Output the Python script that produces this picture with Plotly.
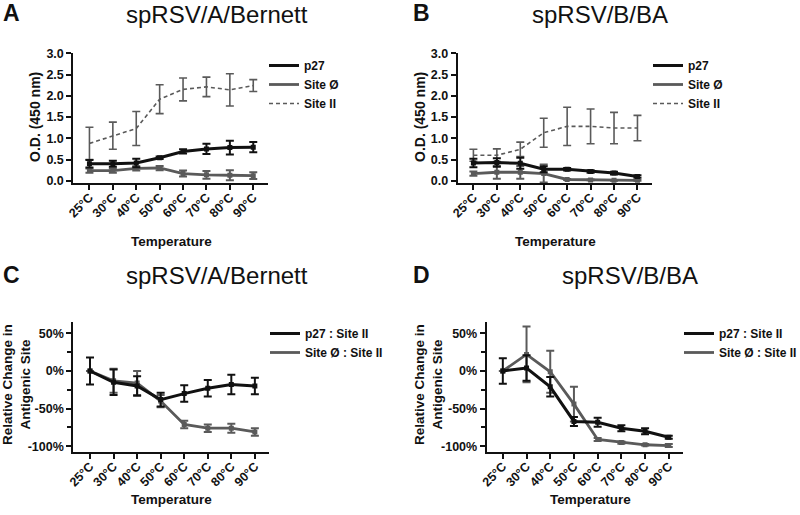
import plotly.graph_objects as go

temps = ["25°C", "30°C", "40°C", "50°C", "60°C", "70°C", "80°C", "90°C"]
xi = list(range(len(temps)))

# Panel A: spRSV/A/Bernett O.D.
a_p27 = [0.40, 0.40, 0.42, 0.54, 0.69, 0.75, 0.78, 0.79]
a_p27_err = [0.09, 0.07, 0.10, 0.03, 0.05, 0.12, 0.16, 0.12]
a_site0 = [0.24, 0.24, 0.29, 0.30, 0.17, 0.14, 0.13, 0.12]
a_site0_err = [0.05, 0.05, 0.05, 0.05, 0.07, 0.09, 0.12, 0.08]
a_site2 = [0.88, 1.06, 1.23, 1.92, 2.15, 2.21, 2.14, 2.24]
a_site2_err = [0.38, 0.32, 0.40, 0.34, 0.27, 0.23, 0.38, 0.14]

# Panel B: spRSV/B/BA O.D.
b_p27 = [0.42, 0.43, 0.41, 0.27, 0.27, 0.22, 0.18, 0.10]
b_p27_err = [0.10, 0.10, 0.13, 0.07, 0.03, 0.03, 0.03, 0.03]
b_site0 = [0.17, 0.20, 0.20, 0.17, 0.03, 0.02, 0.01, 0.01]
b_site0_err = [0.05, 0.15, 0.15, 0.21, 0.01, 0.01, 0.01, 0.01]
b_site2 = [0.60, 0.60, 0.74, 1.13, 1.28, 1.28, 1.24, 1.24]
b_site2_err = [0.14, 0.15, 0.17, 0.34, 0.45, 0.41, 0.37, 0.30]

# Panel C: spRSV/A/Bernett relative change (%)
c_p27 = [0, -15, -20, -38, -30, -23, -18, -20]
c_p27_err = [18, 17, 13, 9, 11, 11, 13, 11]
c_site0 = [0, -13, -16, -40, -71, -76, -76, -81]
c_site0_err = [0, 16, 16, 8, 5, 5, 6, 5]

# Panel D: spRSV/B/BA relative change (%)
d_p27 = [0, 4, -21, -67, -68, -76, -80, -88]
d_p27_err = [17, 17, 13, 6, 6, 4, 4, 2]
d_site0 = [0, 22, -1, -44, -91, -95, -98, -99]
d_site0_err = [0, 37, 28, 23, 2, 1.5, 1, 2]

od_ticks = [0.0, 0.5, 1.0, 1.5, 2.0, 2.5, 3.0]
pct_ticks = [-100, -50, 0, 50]
pct_labels = ["-100%", "-50%", "0%", "50%"]
pct_minor = [-75, -25, 25]

BLACK = "#111111"
GRAY = "#5a5a5a"
FONT = "Liberation Sans"

fig = go.Figure()


def add_series(xa, ya, y, err, color, width, dash, legend, name, marker=True, ethick=2):
    fig.add_trace(go.Scatter(
        x=xi, y=y, xaxis=xa, yaxis=ya,
        mode="lines+markers" if marker else "lines",
        line=dict(color=color, width=width, dash=dash),
        marker=dict(symbol="square", size=5, color=color),
        error_y=dict(type="data", array=err, visible=True, color=color,
                     thickness=ethick, width=4),
        showlegend=False, hoverinfo="skip"))
    fig.add_trace(go.Scatter(
        x=[None], y=[None], xaxis=xa, yaxis=ya, mode="lines",
        line=dict(color=color, width=width, dash=dash),
        name=name, legend=legend, showlegend=True))


DASH = "4px,3px"
# A
add_series("x", "y", a_site2, a_site2_err, GRAY, 1.6, DASH, "legend", "Site II", marker=False, ethick=1.6)
add_series("x", "y", a_site0, a_site0_err, GRAY, 2.8, "solid", "legend", "Site Ø")
add_series("x", "y", a_p27, a_p27_err, BLACK, 3, "solid", "legend", "p27")
# B
add_series("x2", "y2", b_site2, b_site2_err, GRAY, 1.6, DASH, "legend2", "Site II", marker=False, ethick=1.6)
add_series("x2", "y2", b_site0, b_site0_err, GRAY, 2.8, "solid", "legend2", "Site Ø")
add_series("x2", "y2", b_p27, b_p27_err, BLACK, 3, "solid", "legend2", "p27")
# C
add_series("x3", "y3", c_site0, c_site0_err, GRAY, 2.8, "solid", "legend3", "Site Ø : Site II")
add_series("x3", "y3", c_p27, c_p27_err, BLACK, 3, "solid", "legend3", "p27 : Site II")
# D
add_series("x4", "y4", d_site0, d_site0_err, GRAY, 2.8, "solid", "legend4", "Site Ø : Site II")
add_series("x4", "y4", d_p27, d_p27_err, BLACK, 3, "solid", "legend4", "p27 : Site II")

tickfont = dict(family=FONT, size=12.5, color=BLACK, weight="bold")


def xaxis(domain, rng, anchor):
    return dict(domain=domain, range=rng, anchor=anchor, tickmode="array",
                tickvals=xi, ticktext=temps, tickangle=-45, ticks="outside",
                ticklen=5, tickwidth=2, tickcolor=BLACK, showline=True,
                linecolor=BLACK, linewidth=2, showgrid=False, zeroline=False,
                tickfont=tickfont, fixedrange=True, automargin=False,
                ticklabelstandoff=-5)


def yaxis_od(domain, anchor):
    return dict(domain=domain, range=[-0.06, 3.0], anchor=anchor,
                tickmode="array", tickvals=od_ticks,
                ticktext=[f"{v:.1f}" for v in od_ticks], ticks="outside",
                ticklen=5, tickwidth=2,
                tickcolor=BLACK, showline=True, linecolor=BLACK, linewidth=2,
                showgrid=False, zeroline=False, tickfont=tickfont, automargin=False)


def yaxis_pct(domain, anchor):
    return dict(domain=domain, range=[-108, 64.7], anchor=anchor,
                tickmode="array", tickvals=pct_ticks, ticktext=pct_labels,
                ticks="outside", ticklen=5, tickwidth=2, tickcolor=BLACK,
                showline=True, linecolor=BLACK, linewidth=2, showgrid=False,
                zeroline=False, tickfont=tickfont, automargin=False,
                minor=dict(tickvals=pct_minor, ticks="outside", ticklen=4,
                           tickwidth=2, tickcolor=BLACK))


W, H = 800, 515
top_dom = [1 - 183.3 / H, 1 - 53.3 / H]
bot_dom = [1 - 452.3 / H, 1 - 322.3 / H]

legfont = dict(family=FONT, size=12, color=BLACK, weight="bold")


def legend(xpx, ypx):
    return dict(x=xpx / W, y=1 - ypx / H, xanchor="left", yanchor="top",
                bgcolor="rgba(0,0,0,0)", font=legfont, traceorder="reversed",
                tracegroupgap=0, itemclick=False)


fig.update_layout(
    width=W, height=H, margin=dict(l=0, r=0, t=0, b=0, autoexpand=False),
    paper_bgcolor="white", plot_bgcolor="white",
    font=dict(family=FONT, color=BLACK),
    xaxis=xaxis([73.3 / W, 268 / W], [-0.69, 7.63], "y"),
    yaxis=yaxis_od(top_dom, "x"),
    xaxis2=xaxis([457.7 / W, 652 / W], [-0.67, 7.62], "y2"),
    yaxis2=yaxis_od(top_dom, "x2"),
    xaxis3=xaxis([73.3 / W, 269 / W], [-0.71, 7.6], "y3"),
    yaxis3=yaxis_pct(bot_dom, "x3"),
    xaxis4=xaxis([486.7 / W, 683 / W], [-0.68, 7.6], "y4"),
    yaxis4=yaxis_pct(bot_dom, "x4"),
    legend=legend(264, 51),
    legend2=legend(648, 51),
    legend3=legend(265, 319),
    legend4=legend(679, 319),
)

# Titles, panel letters and axis titles
texts = [
    ("A", 11, 13, 23, "bold", 0),
    ("B", 421, 13, 23, "bold", 0),
    ("C", 11, 275, 23, "bold", 0),
    ("D", 421, 275, 23, "bold", 0),
    ("spRSV/A/Bernett", 217, 15, 24, "normal", 0),
    ("spRSV/B/BA", 600, 15, 24, "normal", 0),
    ("spRSV/A/Bernett", 217, 275, 24, "normal", 0),
    ("spRSV/B/BA", 630, 275, 24, "normal", 0),
    ("Temperature", 171, 241, 13.5, "bold", 0),
    ("Temperature", 555, 241, 13.5, "bold", 0),
    ("Temperature", 171, 499, 13.5, "bold", 0),
    ("Temperature", 590, 499, 13.5, "bold", 0),
    ("O.D. (450 nm)", 35, 117, 14, "bold", -90),
    ("O.D. (450 nm)", 420, 117, 14, "bold", -90),
    ("Relative Change in<br>Antigenic Site", 16, 385, 13.5, "bold", -90),
    ("Relative Change in<br>Antigenic Site", 428, 385, 13.5, "bold", -90),
]
for t, xp, yp, sz, wt, ang in texts:
    fig.add_annotation(text=t, x=xp / W, y=1 - yp / H, xref="paper", yref="paper",
                       xanchor="center", yanchor="middle", showarrow=False,
                       textangle=ang,
                       font=dict(family=FONT, size=sz, color=BLACK, weight=wt))

fig.write_html("out.html", config={"displayModeBar": False},
               post_script="document.body.style.margin='0';")
